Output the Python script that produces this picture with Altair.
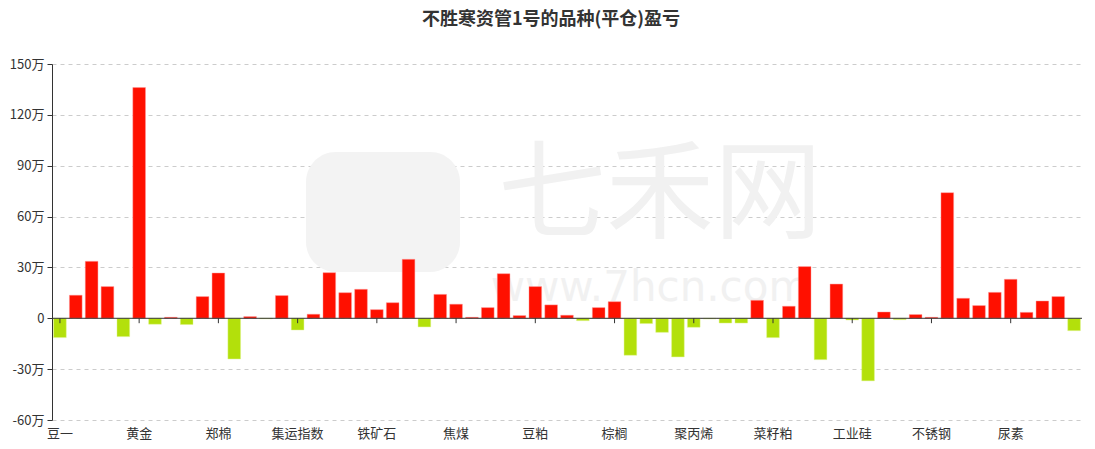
import altair as alt
import pandas as pd

# profit/loss per product, unit: 万 (10k yuan), in display order
values = [
    -11.4, 13.6, 33.6, 18.7, -10.8, 136.1, -3.5, 0.6, -3.7, 12.8,
    26.7, -24.0, 1.0, -0.3, 13.4, -6.9, 2.4, 26.9, 15.1, 17.1,
    5.1, 9.2, 34.8, -5.1, 14.1, 8.3, 0.6, 6.3, 26.3, 1.6,
    18.7, 7.9, 1.8, -1.4, 6.3, 9.8, -21.8, -3.1, -8.3, -22.8,
    -5.3, -0.4, -2.8, -2.8, 10.6, -11.4, 7.1, 30.5, -24.4, 20.2,
    -1.0, -36.9, 3.7, -0.8, 2.2, 0.6, 74.1, 11.8, 7.5, 15.3,
    23.0, 3.5, 10.2, 12.8, -7.3,
]
# axis labels shown on every 5th product
tick_labels = ["豆一", "黄金", "郑棉", "集运指数", "铁矿石", "焦煤", "豆粕",
               "棕榈", "聚丙烯", "菜籽粕", "工业硅", "不锈钢", "尿素"]
y_ticks = [-60, -30, 0, 30, 60, 90, 120, 150]

title = "不胜寒资管1号的品种(平仓)盈亏"
FONT = "Noto Sans CJK SC"

df = pd.DataFrame({"i": list(range(len(values))), "v": values})
tick_idx = [k * 5 for k in range(len(tick_labels))]
ticks_df = pd.DataFrame({"i": tick_idx, "y0": [0] * len(tick_idx), "y1": [-2.9] * len(tick_idx)})

label_expr = "[" + ",".join("'" + s + "'" for s in tick_labels) + "][datum.value / 5]"

x_scale = alt.Scale(domain=list(range(len(values))), paddingInner=0.2, paddingOuter=0.1)
y_scale = alt.Scale(domain=[-60, 150], nice=False, zero=False)

x_enc = alt.X(
    "i:O", scale=x_scale, title=None,
    axis=alt.Axis(values=tick_idx, labelExpr=label_expr, labelAngle=0,
                  domain=False, ticks=False, grid=False,
                  labelFont=FONT, labelFontSize=13, labelColor="#333333",
                  labelPadding=7),
)
y_enc = alt.Y(
    "v:Q", scale=y_scale, title=None,
    axis=alt.Axis(values=y_ticks,
                  labelExpr="datum.value == 0 ? '0' : datum.value + '万'",
                  domain=True, domainColor="#333333", domainWidth=1,
                  ticks=True, tickColor="#333333", tickSize=5,
                  grid=True, gridColor="#cccccc", gridDash=[4, 4], gridWidth=1,
                  labelFont=FONT, labelFontSize=13, labelColor="#333333",
                  labelPadding=3),
)

# faint watermark
wm_df = pd.DataFrame({"t": ["七禾网"]})
watermark = alt.Chart(wm_df).mark_text(
    font=FONT, fontSize=108, color="#f1f1f1", align="center", baseline="middle"
).encode(text="t:N", x=alt.value(608), y=alt.value(134))
wm2_df = pd.DataFrame({"t": ["www.7hcn.com"]})
watermark2 = alt.Chart(wm2_df).mark_text(
    font="DejaVu Sans", fontSize=42, color="#f1f1f1", align="center", baseline="middle"
).encode(text="t:N", x=alt.value(598), y=alt.value(224))
logo_df = pd.DataFrame({"a": [0]})
logo = alt.Chart(logo_df).mark_rect(
    color="#f3f3f3", cornerRadius=30
).encode(x=alt.value(254), x2=alt.value(408), y=alt.value(88), y2=alt.value(208))

bars = alt.Chart(df).mark_bar(strokeWidth=1, strokeOpacity=0.45).encode(
    x=x_enc, y=y_enc, y2=alt.Y2(datum=0),
    color=alt.condition("datum.v >= 0", alt.value("#ff1000"), alt.value("#b3e00b")),
    stroke=alt.condition("datum.v >= 0", alt.value("#ff9999"), alt.value("#e0f590")),
)

zero_line = alt.Chart(pd.DataFrame({"z": [0]})).mark_rule(color="#333333", strokeWidth=1).encode(
    y=alt.Y("z:Q", scale=y_scale), x=alt.value(0), x2=alt.value(1030)
)
zero_ticks = alt.Chart(ticks_df).mark_rule(color="#333333", strokeWidth=1).encode(
    x=alt.X("i:O", scale=x_scale),
    y=alt.Y("y0:Q", scale=y_scale),
    y2="y1:Q",
)

chart = alt.layer(logo, watermark, watermark2, bars, zero_line, zero_ticks).properties(
    width=1030, height=356,
    title=alt.TitleParams(title, font=FONT, fontSize=18, fontWeight="bold",
                          color="#333333", anchor="middle", dx=-16, offset=29),
    autosize=alt.AutoSizeParams(type="none"),
    padding={"left": 44, "top": 56, "right": 5, "bottom": 20},
).configure(background="white").configure_view(stroke=None)

chart.save("out.html", embed_options={"renderer": "svg", "actions": False})
